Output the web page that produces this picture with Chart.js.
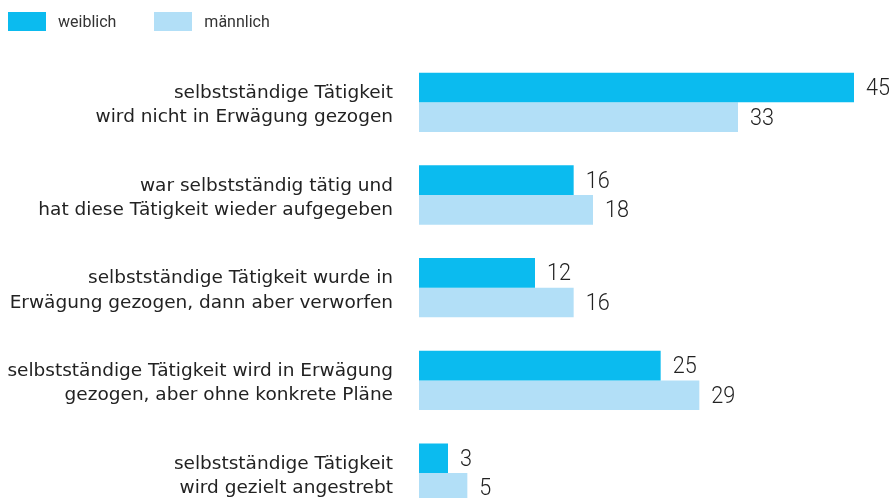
<!DOCTYPE html>
<html>
<head>
<meta charset="utf-8">
<script src="https://cdn.jsdelivr.net/npm/chart.js@4.4.1/dist/chart.umd.min.js"></script>
<style>
  html, body { margin: 0; padding: 0; background: #fff; overflow: hidden; }
  #wrap { position: relative; width: 893px; height: 498px; overflow: hidden; }
  #legend { position: absolute; left: 8px; top: 12px; display: flex; font-family: Roboto, sans-serif; font-size: 16px; color: #333; }
  .item { display: flex; align-items: center; margin-right: 38px; }
  .box { width: 38px; height: 19px; margin-right: 12px; }
  canvas { position: absolute; left: 0; top: 0; }
</style>
</head>
<body>
<div id="wrap">
  <canvas id="c" width="893" height="570"></canvas>
  <div id="legend"></div>
</div>
<script>
const categories = [
  ["selbstständige Tätigkeit", "wird nicht in Erwägung gezogen"],
  ["war selbstständig tätig und", "hat diese Tätigkeit wieder aufgegeben"],
  ["selbstständige Tätigkeit wurde in", "Erwägung gezogen, dann aber verworfen"],
  ["selbstständige Tätigkeit wird in Erwägung", "gezogen, aber ohne konkrete Pläne"],
  ["selbstständige Tätigkeit", "wird gezielt angestrebt"]
];
const seriesNames = ["weiblich", "männlich"];
const weiblich = [45, 16, 12, 25, 3];
const maennlich = [33, 18, 16, 29, 5];
const colors = ["#0bbbef", "#b2dff7"];

const legend = document.getElementById('legend');
seriesNames.forEach((n, i) => {
  const it = document.createElement('div');
  it.className = 'item';
  it.innerHTML = '<div class="box" style="background:' + colors[i] + '"></div><span>' + n + '</span>';
  legend.appendChild(it);
});

const valueLabels = {
  id: 'valueLabels',
  afterDatasetsDraw(chart) {
    const ctx = chart.ctx;
    chart.data.datasets.forEach((ds, di) => {
      chart.getDatasetMeta(di).data.forEach((bar, i) => {
        ctx.save();
        ctx.font = '300 24px Roboto, sans-serif';
        ctx.fillStyle = '#222';
        ctx.textBaseline = 'middle';
        ctx.textAlign = 'left';
        ctx.translate(bar.x + 12, bar.y + 1.5);
        ctx.scale(0.9, 1);
        ctx.fillText(String(ds.data[i]), 0, 0);
        ctx.restore();
      });
    });
  }
};

new Chart(document.getElementById('c'), {
  type: 'bar',
  data: {
    labels: categories,
    datasets: [
      { label: seriesNames[0], data: weiblich, backgroundColor: colors[0] },
      { label: seriesNames[1], data: maennlich, backgroundColor: colors[1] }
    ]
  },
  options: {
    indexAxis: 'y',
    responsive: false,
    animation: false,
    layout: { padding: { top: 56, right: 39, bottom: 0, left: 0 } },
    datasets: { bar: { categoryPercentage: 0.64, barPercentage: 1 } },
    plugins: { legend: { display: false }, tooltip: { enabled: false } },
    scales: {
      x: { display: false, min: 0, max: 45 },
      y: {
        grid: { display: false, drawTicks: false },
        border: { display: false },
        ticks: {
          padding: 26,
          labelOffset: 3,
          color: '#222',
          font: { family: '"DejaVu Sans", sans-serif', size: 18.5, lineHeight: 1.33 }
        },
        afterFit(scale) { scale.width = 419; }
      }
    }
  },
  plugins: [valueLabels]
});
</script>
</body>
</html>
